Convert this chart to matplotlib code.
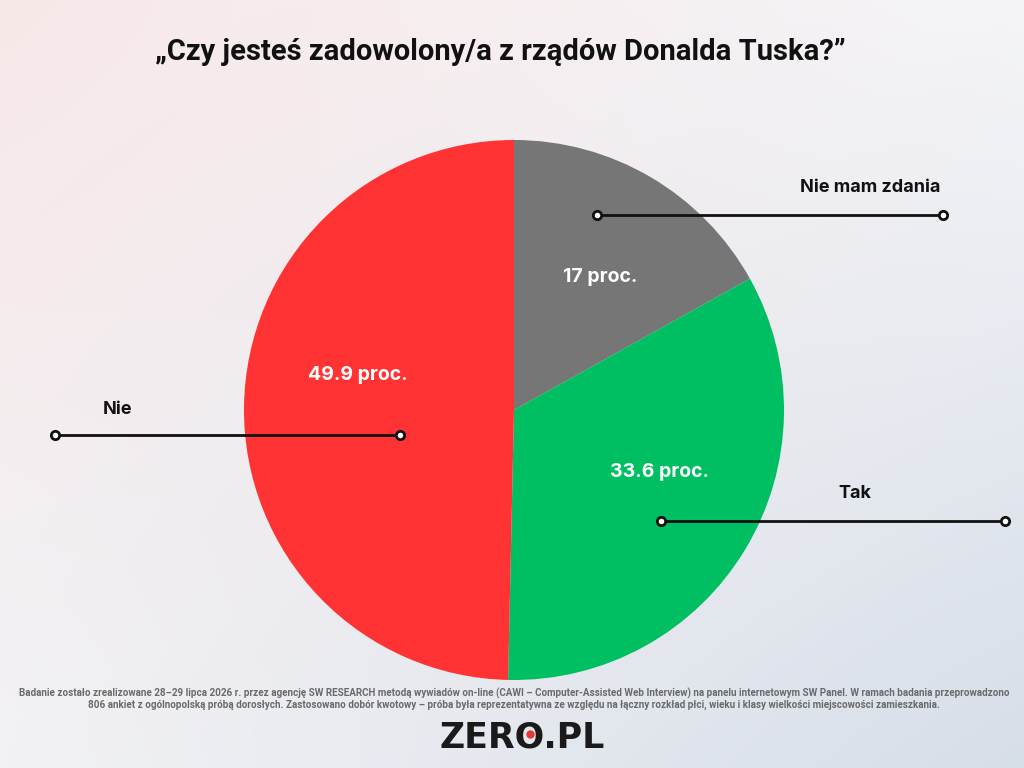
import numpy as np
import matplotlib
matplotlib.use("Agg")
import matplotlib.pyplot as plt

# --- data ---
categories = ["Nie mam zdania", "Tak", "Nie"]
values = [17, 33.6, 49.9]
value_labels = ["17 proc.", "33.6 proc.", "49.9 proc."]
colors = ["#767676", "#00BF63", "#FF3333"]

TITLE = "\u201eCzy jesteś zadowolony/a z rządów Donalda Tuska?\u201d"
FOOTER = ("Badanie zostało zrealizowane 28\u201329 lipca 2026 r. przez agencję SW RESEARCH metodą wywiadów on-line "
          "(CAWI \u2013 Computer-Assisted Web Interview) na panelu internetowym SW Panel. W ramach badania przeprowadzono\n"
          "806 ankiet z ogólnopolską próbą dorosłych. Zastosowano dobór kwotowy \u2013 próba była reprezentatywna ze względu "
          "na łączny rozkład płci, wieku i klasy wielkości miejscowości zamieszkania.")

# layout (pixels, origin top-left) for the callouts: label pos, line start, line end
callouts = {
    "Nie mam zdania": ((870, 188), (597, 215), (943, 215)),
    "Tak": ((855, 494), (661, 521), (1005, 521)),
    "Nie": ((118, 410), (55, 435), (400, 435)),
}
pct_pos = {"Nie mam zdania": (600, 277), "Tak": (660, 472), "Nie": (358, 375)}

W, H = 1024, 768
fig = plt.figure(figsize=(W / 100, H / 100), dpi=100)

# --- background gradient ---
bg = fig.add_axes([0, 0, 1, 1])
yy, xx = np.mgrid[0:1:H * 1j, 0:1:W * 1j]
tl = np.array([248, 232, 232]) / 255
tr = np.array([245, 245, 248]) / 255
bl = np.array([242, 242, 245]) / 255
br = np.array([214, 222, 232]) / 255
img = ((1 - xx)[..., None] * (1 - yy)[..., None] * tl + xx[..., None] * (1 - yy)[..., None] * tr
       + (1 - xx)[..., None] * yy[..., None] * bl + xx[..., None] * yy[..., None] * br)
bg.imshow(img, extent=[0, W, H, 0], aspect="auto")
bg.set_xlim(0, W)
bg.set_ylim(H, 0)
bg.axis("off")

# --- pie ---
cx, cy, r = 514, 410, 270
ax = fig.add_axes([(cx - r) / W, (H - cy - r) / H, 2 * r / W, 2 * r / H])
ax.pie(values, colors=colors, startangle=90, counterclock=False,
       wedgeprops=dict(linewidth=0))
ax.set_xlim(-1, 1)
ax.set_ylim(-1, 1)
ax.set_aspect("equal")

# --- overlay for texts and callouts ---
ov = fig.add_axes([0, 0, 1, 1], facecolor="none")
ov.set_xlim(0, W)
ov.set_ylim(H, 0)
ov.axis("off")

for cat, lab in zip(categories, value_labels):
    (lx, ly), p0, p1 = callouts[cat]
    ov.text(lx, ly, cat, ha="center", va="center", fontsize=13, fontweight="bold",
            family="Inter", color="#111111")
    ov.plot([p0[0], p1[0]], [p0[1], p1[1]], color="#111111", lw=2,
            marker="o", markersize=6, markerfacecolor="white", markeredgewidth=2)
    px, py = pct_pos[cat]
    ov.text(px, py, lab, ha="center", va="center", fontsize=14, fontweight="bold",
            family="Inter", color="white")

ov.text(500, 52, TITLE, ha="center", va="center", fontsize=21, fontweight="bold",
        family="Roboto", color="#111111")

ov.text(514, 699, FOOTER, ha="center", va="center", fontsize=7.1, fontweight="bold",
        family="Roboto", color="#6a6a6a", linespacing=1.15)

# logo
LOGO_FS = 25
logo = ov.text(522, 738, "ZERO.PL", ha="center", va="center", fontsize=LOGO_FS,
               fontweight="bold", family="DejaVu Sans", color="#1a1a1a")
fig.canvas.draw()
rend = fig.canvas.get_renderer()
bb_full = logo.get_window_extent(rend)
tmp = ov.text(0, 0, "ZER", fontsize=LOGO_FS, fontweight="bold", family="DejaVu Sans")
w_zer = tmp.get_window_extent(rend).width
tmp2 = ov.text(0, 0, "ZERO", fontsize=LOGO_FS, fontweight="bold", family="DejaVu Sans")
w_zero = tmp2.get_window_extent(rend).width
tmp.remove()
tmp2.remove()
ox = bb_full.x0 + (w_zer + w_zero) / 2
ov.plot([ox], [734], "o", color="#E53935", markersize=5)

fig.savefig("out.png", dpi=100)
